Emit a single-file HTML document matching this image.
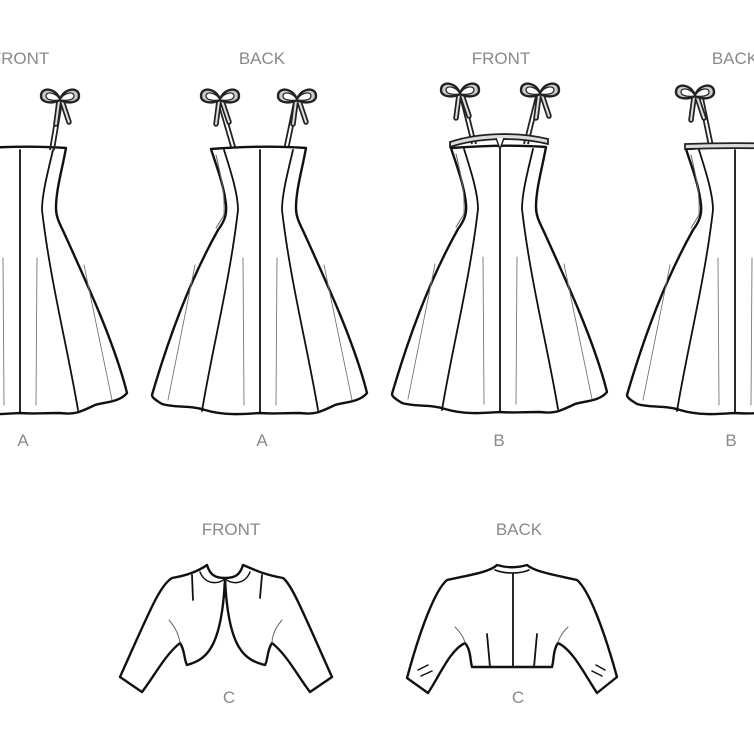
<!DOCTYPE html>
<html><head><meta charset="utf-8"><style>
html,body{margin:0;padding:0;background:#fff;}
svg{display:block;}
text{font-family:"Liberation Sans",sans-serif;font-size:17px;fill:#8a8a8a;text-anchor:middle;}
</style></head><body>
<svg width="754" height="754" viewBox="0 0 754 754" xmlns="http://www.w3.org/2000/svg">
<defs>
<g id="bow" stroke-linejoin="round" stroke-linecap="round">
  <path d="M-1,1 L-4,24 M2,1 L9,22" stroke="#222" stroke-width="5.5" fill="none"/>
  <path d="M-1,1 L-4,24 M2,1 L9,22" stroke="#ddd" stroke-width="2" fill="none"/>
  <path d="M0,0 C-3,-12 -19,-14 -19,-4 C-19,3 -8,4 0,0 Z M0,0 C3,-12 19,-14 19,-4 C19,3 8,4 0,0 Z" fill="#ccc" stroke="#222" stroke-width="2.4"/>
  <path d="M0,0 C-4,-8 -14,-9 -14,-4 C-14,0 -7,1 0,0 Z M0,0 C4,-8 14,-9 14,-4 C14,0 7,1 0,0 Z" fill="#fff" stroke="#222" stroke-width="1.2"/>
</g>
<g id="body" fill="none" stroke="#111" stroke-linecap="round" stroke-linejoin="round">
  <path stroke-width="2.4" fill="#fff" d="M-49,149 C-10,146 20,146 46,148 C42,170 36,190 36,208 C36,218 40,224 45,235 C70,290 95,345 107,393 C100,402 85,402 75,405 C60,412 55,415 40,413 C20,413 10,414 0,413 C-15,414 -35,416 -55,410 C-70,405 -85,408 -98,404 C-103,401 -108,398 -108,395 C-92,340 -70,280 -42,230 C-36,222 -33,215 -34,205 C-36,185 -44,165 -49,149 Z"/>
  <path stroke-width="1.8" d="M0,150 L0,413"/>
  <path stroke-width="1.8" d="M-36,150 C-28,175 -22,195 -22,210 C-30,280 -48,350 -58,411"/>
  <path stroke-width="1.8" d="M33,150 C27,175 22,195 22,210 C30,280 48,350 58,410"/>
  <path stroke-width="1" stroke="#666" d="M-44,155 C-38,180 -35,195 -36,215 L-44,228"/>
  <path stroke-width="0.9" stroke="#777" d="M-65,265 L-92,400 M-17,258 L-16,405 M17,258 L16,405 M64,265 L92,400"/>
</g>
</defs>

<text x="20" y="64">FRONT</text>
<text x="262" y="64">BACK</text>
<text x="501" y="64">FRONT</text>
<text x="735" y="64">BACK</text>
<text x="23" y="446">A</text>
<text x="262" y="446">A</text>
<text x="499" y="446">B</text>
<text x="731" y="446">B</text>
<text x="231" y="535">FRONT</text>
<text x="519" y="535">BACK</text>
<text x="229" y="703">C</text>
<text x="518" y="703">C</text>

<!-- Front A -->
<g transform="translate(20,0)">
  <use href="#body"/>
  <path d="M34,150 L42,102 M30,150 L38,102" stroke="#222" stroke-width="1.8"/>
  <use href="#bow" transform="translate(40,100)"/>
</g>
<!-- Back A -->
<g transform="translate(260,0)">
  <path d="M-28,150 L-42,102 M-24,150 L-38,102" stroke="#222" stroke-width="1.8"/>
  <path d="M28,150 L38,102 M24,150 L34,102" stroke="#222" stroke-width="1.8"/>
  <use href="#body"/>
  <use href="#bow" transform="translate(-40,100)"/>
  <use href="#bow" transform="translate(37,100)"/>
</g>
<!-- Front B -->
<g transform="translate(500,-6)">
  <path d="M-28,150 L-40,102 M-24,150 L-36,102" stroke="#222" stroke-width="1.8"/>
  <path d="M28,150 L40,102 M24,150 L36,102" stroke="#222" stroke-width="1.8"/>
  <use href="#body" transform="translate(0,5)"/>
  <path d="M-50,148 C-20,138 20,138 48,145 L48,150 C20,143 -20,143 -50,153 Z" fill="#ddd" stroke="#222" stroke-width="1.8"/>
  <path d="M-4,144 L0,155 L4,144" fill="#fff" stroke="#222" stroke-width="1.5"/>
  <use href="#bow" transform="translate(-40,100)"/>
  <use href="#bow" transform="translate(40,100)"/>
</g>
<!-- Back B -->
<g transform="translate(735,-4)">
  <path d="M-26,150 L-36,102 M-22,150 L-32,102" stroke="#222" stroke-width="1.8"/>
  <use href="#body" transform="translate(0,4)"/>
  <path d="M-50,148 C-20,147 20,147 48,148 L48,153 C20,152 -20,152 -50,153 Z" fill="#ddd" stroke="#222" stroke-width="1.8"/>
  <use href="#bow" transform="translate(-40,100)"/>
</g>

<!-- Jacket front C -->
<g fill="none" stroke="#111" stroke-width="2.4" stroke-linejoin="round" stroke-linecap="round">
  <path fill="#fff" d="M207,565 C200,570 190,575 172,578 C160,585 150,610 120,677 L142,692 C155,675 165,655 180,643 C185,650 184,660 187,665 C205,660 222,650 225,578 C228,650 245,660 265,665 C268,660 267,650 272,643 C287,655 297,675 310,692 L332,677 C302,610 292,585 283,578 C265,575 255,570 243,565 C240,575 235,578 225,578 C215,578 210,575 207,565 Z"/>
  <path stroke-width="1.5" d="M200,572 C205,585 220,585 225,578 C230,585 245,585 250,572"/>
  <path stroke-width="1.8" d="M192,575 L193,600 M262,575 L260,598"/>
  <path stroke-width="1" stroke="#666" d="M169,620 C175,627 179,635 180,643 M282,620 C276,627 272,635 272,643"/>
</g>
<!-- Jacket back C -->
<g fill="none" stroke="#111" stroke-width="2.4" stroke-linejoin="round" stroke-linecap="round">
  <path fill="#fff" d="M497,565 C490,572 470,575 447,580 C435,590 420,630 407,678 L428,693 C440,675 450,650 465,643 C471,650 470,660 472,667 L552,667 C554,660 553,650 558,643 C573,650 585,675 597,693 L617,677 C604,630 589,590 577,580 C555,575 535,572 527,565 C517,568 507,568 497,565 Z"/>
  <path stroke-width="1.6" d="M495,570 C505,574 520,574 529,570"/>
  <path stroke-width="1.8" d="M513,573 L513,667 M487,634 L490,667 M537,634 L534,667"/>
  <path stroke-width="1.5" d="M418,670 L428,665 M421,676 L432,671 M605,670 L596,665 M602,676 L592,671"/>
  <path stroke-width="1" stroke="#666" d="M455,627 C460,632 464,638 465,643 M568,627 C563,632 559,638 558,643"/>
</g>
</svg>
</body></html>
